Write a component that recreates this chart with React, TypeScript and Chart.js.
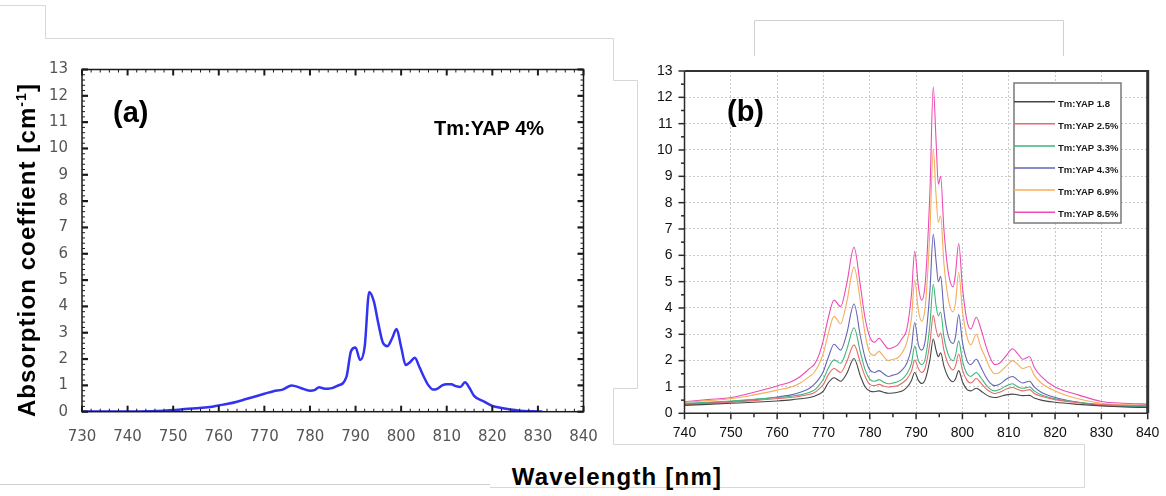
import React, { useEffect, useRef } from "react";
import { Chart, registerables } from "chart.js";

Chart.register(...registerables);

const SANS = "'Liberation Sans', Arial, Helvetica, sans-serif";

// ---------- Panel (a): Tm:YAP 4% ----------
const aWavelength = [730, 735, 740, 745, 748, 750, 752, 755, 758, 760, 762, 764, 766, 768, 770, 772, 774, 776, 778, 780, 781, 782, 783, 784, 786, 788, 789, 790, 791, 792, 793, 794, 795, 796, 797, 798, 799, 800, 801, 802, 803, 804, 805, 806, 807, 808, 809, 810, 811, 812, 813, 814, 815, 816, 818, 820, 822, 824, 826, 828, 830, 831];
const aAbsorption = [0.01, 0.01, 0.01, 0.02, 0.04, 0.06, 0.09, 0.13, 0.18, 0.24, 0.3, 0.38, 0.48, 0.58, 0.68, 0.78, 0.84, 1.0, 0.9, 0.8, 0.82, 0.93, 0.88, 0.87, 0.98, 1.32, 2.3, 2.44, 1.96, 2.46, 4.55, 4.2, 3.35, 2.62, 2.49, 2.78, 3.14, 2.46, 1.77, 1.89, 2.05, 1.7, 1.32, 1.0, 0.84, 0.88, 1.0, 1.04, 1.04, 0.97, 0.94, 1.12, 0.9, 0.6, 0.4, 0.22, 0.14, 0.08, 0.04, 0.02, 0.01, 0.0];
const aXTicks = { min: 730, max: 840, step: 10 };
const aYTicks = { min: 0, max: 13, step: 1 };

// ---------- Panel (b): concentration series ----------
const bWavelength = [740, 745, 750, 755, 760, 763, 765, 767, 768, 769, 770, 771, 772.3, 773.7, 775, 776.6, 778, 779, 780, 781, 782, 783, 784, 785, 786, 787, 788, 789, 789.7, 790.5, 791.2, 792, 793, 793.7, 794.3, 794.8, 795.3, 796, 797, 798, 798.5, 799.2, 800, 801, 801.8, 803, 804, 805, 806, 807, 808, 809.5, 810.8, 812, 813, 814.5, 815.5, 817, 820, 825, 830, 835, 840];
const bLabels = ["Tm:YAP 1.8", "Tm:YAP 2.5%", "Tm:YAP 3.3%", "Tm:YAP 4.3%", "Tm:YAP 6.9%", "Tm:YAP 8.5%"];
const bColors = ["#454545", "#e86a6c", "#3fb67a", "#6565b5", "#f6ad5c", "#ec4cb4"];
const yap18 = [0.3, 0.34, 0.38, 0.42, 0.47, 0.51, 0.55, 0.6, 0.65, 0.72, 0.85, 1.15, 1.35, 1.22, 1.5, 2.08, 1.4, 1.0, 0.85, 0.82, 0.85, 0.8, 0.76, 0.77, 0.8, 0.85, 0.98, 1.25, 1.55, 1.25, 1.13, 1.3, 2.05, 2.82, 2.4, 2.15, 2.3, 1.8, 1.35, 1.2, 1.3, 1.62, 1.2, 0.9, 0.85, 0.95, 0.85, 0.72, 0.63, 0.6, 0.63, 0.7, 0.73, 0.7, 0.67, 0.68, 0.58, 0.5, 0.42, 0.34, 0.28, 0.24, 0.22];
const yap25 = [0.33, 0.38, 0.42, 0.48, 0.56, 0.6, 0.65, 0.72, 0.78, 0.92, 1.1, 1.45, 1.7, 1.55, 1.95, 2.6, 1.9, 1.4, 1.1, 1.05, 1.1, 1.03, 1.0, 1.02, 1.05, 1.15, 1.3, 1.6, 2.02, 1.7, 1.55, 1.75, 2.7, 3.72, 3.2, 2.9, 3.05, 2.4, 1.85, 1.65, 1.8, 2.25, 1.65, 1.25, 1.15, 1.32, 1.15, 0.95, 0.82, 0.75, 0.8, 0.92, 0.98, 0.9, 0.85, 0.9, 0.75, 0.65, 0.52, 0.4, 0.33, 0.3, 0.3];
const yap33 = [0.38, 0.42, 0.47, 0.53, 0.6, 0.65, 0.7, 0.8, 0.88, 1.05, 1.3, 1.7, 2.03, 1.9, 2.4, 3.25, 2.3, 1.65, 1.3, 1.22, 1.28, 1.18, 1.12, 1.15, 1.2, 1.3, 1.5, 1.9, 2.55, 2.0, 1.85, 2.1, 3.4, 4.9, 4.1, 3.7, 3.85, 2.9, 2.2, 2.0, 2.2, 2.75, 2.0, 1.5, 1.4, 1.55, 1.35, 1.1, 0.92, 0.85, 0.9, 1.05, 1.12, 1.0, 0.95, 1.0, 0.85, 0.7, 0.55, 0.42, 0.33, 0.28, 0.26];
const yap43 = [0.35, 0.4, 0.45, 0.52, 0.62, 0.7, 0.8, 0.95, 1.1, 1.3, 1.6, 2.1, 2.62, 2.4, 3.0, 4.15, 2.9, 2.1, 1.65, 1.55, 1.62, 1.5, 1.4, 1.45, 1.5, 1.65, 1.9, 2.5, 3.45, 2.6, 2.4, 2.8, 4.7, 6.8, 5.8, 5.0, 5.2, 3.9, 2.9, 2.65, 2.9, 3.75, 2.7, 2.0, 1.85, 2.05, 1.75, 1.4, 1.15, 1.05, 1.1, 1.3, 1.4, 1.25, 1.15, 1.22, 1.0, 0.8, 0.6, 0.42, 0.3, 0.26, 0.24];
const yap69 = [0.42, 0.48, 0.55, 0.7, 0.88, 1.0, 1.15, 1.4, 1.55, 1.85, 2.3, 3.0, 3.68, 3.4, 4.2, 5.55, 4.2, 3.0, 2.3, 2.2, 2.35, 2.15, 2.0, 2.05, 2.1, 2.3, 2.7, 3.6, 5.05, 3.9, 3.5, 4.1, 7.0, 10.05, 8.3, 7.25, 7.5, 5.7, 4.3, 3.85, 4.2, 5.35, 3.9, 2.9, 2.6, 3.0, 2.5, 2.1, 1.7, 1.5, 1.55, 1.8, 2.0, 1.85, 1.7, 1.78, 1.45, 1.15, 0.85, 0.55, 0.38, 0.32, 0.3];
const yap85 = [0.44, 0.52, 0.6, 0.8, 1.04, 1.2, 1.4, 1.7, 1.85, 2.2, 2.8, 3.6, 4.3, 4.05, 4.9, 6.3, 4.8, 3.6, 2.9, 2.7, 2.85, 2.65, 2.45, 2.5, 2.6, 2.85, 3.2, 4.5, 6.15, 4.8, 4.3, 5.0, 8.5, 12.4, 10.4, 8.7, 9.0, 7.0, 5.3, 4.8, 5.3, 6.45, 4.8, 3.5, 3.2, 3.65, 3.2, 2.6, 2.1, 1.85, 1.9, 2.2, 2.45, 2.25, 2.05, 2.15, 1.75, 1.4, 1.0, 0.7, 0.45, 0.38, 0.35];
const bSeries = [yap18, yap25, yap33, yap43, yap69, yap85];
const bXTicks = { min: 740, max: 840, step: 10 };
const bYTicks = { min: 0, max: 13, step: 1 };

const frameA = {
  id: "frameA",
  afterDatasetsDraw(chart: any) {
    const { ctx, chartArea, scales } = chart;
    const { left, right, top, bottom } = chartArea;
    const x = scales.x;
    const y = scales.y;
    ctx.save();
    ctx.strokeStyle = "#1a1a1a";
    ctx.lineWidth = 1.5;
    ctx.strokeRect(left, top, right - left, bottom - top);
    const seg = (x1: number, y1: number, x2: number, y2: number) => {
      ctx.beginPath();
      ctx.moveTo(x1, y1);
      ctx.lineTo(x2, y2);
      ctx.stroke();
    };
    for (let k = 0; k <= 55; k++) {
      const v = aXTicks.min + k * 2;
      const px = x.getPixelForValue(v);
      const major = k % 5 === 0;
      const len = major ? 6 : 3;
      ctx.lineWidth = major ? 2 : 1;
      seg(px, bottom, px, bottom - len);
      seg(px, top, px, top + len);
    }
    for (let k = 0; k <= 65; k++) {
      const v = k * 0.2;
      const py = y.getPixelForValue(v);
      const major = k % 5 === 0;
      const len = major ? 6 : 3;
      ctx.lineWidth = major ? 2.2 : 1;
      seg(left, py, left + len, py);
      seg(right, py, right - len, py);
    }
    ctx.restore();
  },
};

const frameB = {
  id: "frameB",
  afterDraw(chart: any) {
    const { ctx, chartArea, scales } = chart;
    const { left, right, top, bottom } = chartArea;
    const x = scales.x;
    const y = scales.y;
    ctx.save();
    const seg = (x1: number, y1: number, x2: number, y2: number) => {
      ctx.beginPath();
      ctx.moveTo(x1, y1);
      ctx.lineTo(x2, y2);
      ctx.stroke();
    };
    ctx.strokeStyle = "#2a2a2a";
    ctx.lineWidth = 1.5;
    seg(left, top, left, bottom);
    seg(left, bottom, right, bottom);
    ctx.strokeStyle = "#333";
    ctx.lineWidth = 2;
    seg(left, top, right, top);
    ctx.lineWidth = 3;
    seg(right, top - 1, right, bottom);
    ctx.strokeStyle = "#2a2a2a";
    for (let k = 0; k <= 26; k++) {
      const py = y.getPixelForValue(k * 0.5);
      const major = k % 2 === 0;
      ctx.lineWidth = 1.5;
      seg(left, py, left - (major ? 6 : 3.5), py);
    }
    for (let k = 0; k <= 20; k++) {
      const px = x.getPixelForValue(bXTicks.min + k * 5);
      const major = k % 2 === 0;
      ctx.lineWidth = 1.5;
      seg(px, bottom, px, bottom + (major ? 6 : 4));
    }
    // legend
    const lx = 414, ly = 83, lw = 107, lh = 140;
    ctx.fillStyle = "#fff";
    ctx.fillRect(lx, ly, lw, lh);
    ctx.strokeStyle = "#7a7a7a";
    ctx.lineWidth = 1.5;
    ctx.strokeRect(lx, ly, lw, lh);
    chart.data.datasets.forEach((ds: any, i: number) => {
      const yy = 101.7 + i * 22.1;
      ctx.strokeStyle = ds.borderColor;
      ctx.lineWidth = 1.5;
      seg(lx, yy, lx + 41, yy);
      ctx.fillStyle = "#1a1a1a";
      ctx.font = `bold 9.5px ${SANS}`;
      ctx.textBaseline = "middle";
      ctx.textAlign = "left";
      ctx.fillText(ds.label, lx + 44, yy + 2.5);
    });
    ctx.restore();
  },
};

const noSidePadding = (s: any, h: number) => {
  s.height = h;
  s.paddingLeft = 0;
  s.paddingRight = 0;
};

export default function App() {
  const refA = useRef<HTMLCanvasElement>(null);
  const refB = useRef<HTMLCanvasElement>(null);

  useEffect(() => {
    const chA = new Chart(refA.current as HTMLCanvasElement, {
      type: "line",
      data: {
        datasets: [
          {
            label: "Tm:YAP 4%",
            data: aWavelength.map((w, i) => ({ x: w, y: aAbsorption[i] })),
            borderColor: "#3232f2",
            borderWidth: 2.5,
            pointRadius: 0,
            cubicInterpolationMode: "monotone",
            fill: false,
          },
        ],
      },
      options: {
        responsive: false,
        animation: false,
        events: [],
        layout: { padding: { left: 0, top: 69.5, right: 36.5, bottom: 0 } },
        plugins: { legend: { display: false }, title: { display: false }, tooltip: { enabled: false } },
        scales: {
          x: {
            type: "linear",
            min: aXTicks.min,
            max: aXTicks.max,
            grid: { display: false, drawTicks: false },
            border: { display: false },
            ticks: {
              stepSize: aXTicks.step,
              autoSkip: false,
              maxRotation: 0,
              padding: 16,
              color: "#555",
              font: { family: "'DejaVu Sans', sans-serif", size: 15 },
            },
            afterFit: (s: any) => noSidePadding(s, 48.3),
          },
          y: {
            min: aYTicks.min,
            max: aYTicks.max,
            grid: { display: false, drawTicks: false },
            border: { display: false },
            ticks: {
              stepSize: aYTicks.step,
              autoSkip: false,
              padding: 14,
              color: "#555",
              font: { family: "'DejaVu Sans', sans-serif", size: 15 },
            },
            afterFit: (s: any) => {
              s.width = 82;
            },
          },
        },
      } as any,
      plugins: [frameA],
    });

    const chB = new Chart(refB.current as HTMLCanvasElement, {
      type: "line",
      data: {
        datasets: bSeries.map((vals, si) => ({
          label: bLabels[si],
          data: bWavelength.map((w, i) => ({ x: w, y: vals[i] })),
          borderColor: bColors[si],
          borderWidth: 1.1,
          pointRadius: 0,
          cubicInterpolationMode: "monotone",
          fill: false,
        })),
      },
      options: {
        responsive: false,
        animation: false,
        events: [],
        layout: { padding: { left: 0, top: 71, right: 38.3, bottom: 0 } },
        plugins: { legend: { display: false }, title: { display: false }, tooltip: { enabled: false } },
        scales: {
          x: {
            type: "linear",
            min: bXTicks.min,
            max: bXTicks.max,
            grid: { color: "#c9c9c9", lineWidth: 1, drawTicks: false },
            border: { display: false, dash: [2, 2] },
            ticks: {
              stepSize: bXTicks.step,
              autoSkip: false,
              maxRotation: 0,
              padding: 11,
              color: "#111",
              font: { family: SANS, size: 14 },
            },
            afterFit: (s: any) => noSidePadding(s, 46.7),
          },
          y: {
            min: bYTicks.min,
            max: bYTicks.max,
            grid: { color: "#c9c9c9", lineWidth: 1, drawTicks: false },
            border: { display: false, dash: [2, 2] },
            ticks: {
              stepSize: bYTicks.step,
              autoSkip: false,
              padding: 12,
              color: "#111",
              font: { family: SANS, size: 14 },
            },
            afterFit: (s: any) => {
              s.width = 84.5;
            },
          },
        },
      } as any,
      plugins: [frameB],
    });

    return () => {
      chA.destroy();
      chB.destroy();
    };
  }, []);

  const bold = (size: number): React.CSSProperties => ({
    position: "absolute",
    fontFamily: SANS,
    fontWeight: "bold",
    fontSize: size,
    lineHeight: `${size}px`,
    whiteSpace: "nowrap",
    color: "#000",
  });

  return (
    <div style={{ position: "absolute", left: 0, top: 0, width: 1166, height: 496, background: "#fff", overflow: "hidden" }}>
      <svg width={1166} height={496} style={{ position: "absolute", left: 0, top: 0 }}>
        <polyline
          points="0,5.5 45.5,5.5 45.5,38.5 613.5,38.5 613.5,80.5 637.5,80.5 637.5,388.5 613.5,388.5 613.5,444.5 1084.5,444.5 1084.5,487.5 490,487.5"
          fill="none"
          stroke="#d8d8d8"
          strokeWidth={1}
        />
        <line x1={0} y1={484.5} x2={490} y2={484.5} stroke="#cfcfcf" strokeWidth={1} />
        <polyline points="754.5,56 754.5,20.5 1063.5,20.5 1063.5,56" fill="none" stroke="#d0d0d0" strokeWidth={1} />
      </svg>
      <canvas ref={refA} width={620} height={460} style={{ position: "absolute", left: 0, top: 0 }} />
      <canvas ref={refB} width={586} height={460} style={{ position: "absolute", left: 600, top: 0 }} />

      <div style={{ ...bold(29), left: 113, top: 97.5 }}>(a)</div>
      <div style={{ ...bold(20), left: 434, top: 118 }}>Tm:YAP 4%</div>
      <div style={{ ...bold(29), left: 727, top: 96.5 }}>(b)</div>

      <div
        style={{
          ...bold(24),
          left: 27.2 - 170,
          top: 249.5 - 12,
          width: 340,
          height: 24,
          textAlign: "center",
          letterSpacing: "1.1px",
          transform: "rotate(-90deg)",
          transformOrigin: "50% 50%",
        }}
      >
        Absorption coeffient [cm
        <span style={{ fontSize: 14, position: "relative", top: -9 }}>-1</span>]
      </div>

      <div style={{ ...bold(24), left: 511.7, top: 464.7, letterSpacing: "1.2px" }}>Wavelength [nm]</div>
    </div>
  );
}
